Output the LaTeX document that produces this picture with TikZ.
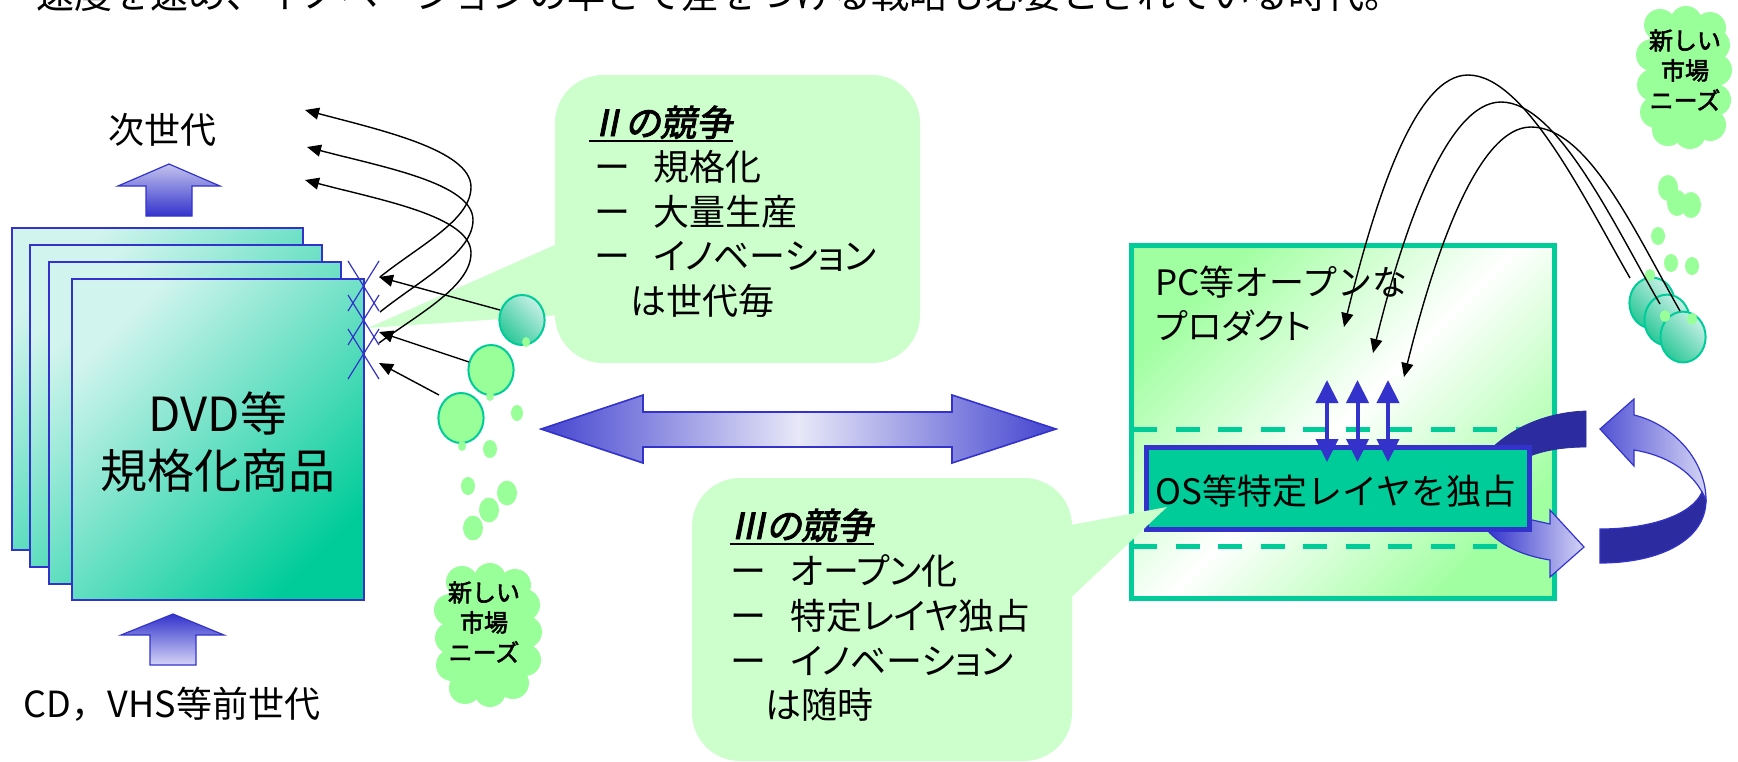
\documentclass[tikz,border=0pt]{standalone}
\usepackage{fontspec}
\setmainfont{Noto Sans CJK JP}[AutoFakeBold=2.5,AutoFakeSlant=0.2]
\newfontfamily\pjp{Noto Sans CJK JP}[RawFeature=+palt,AutoFakeBold=2.5,AutoFakeSlant=0.2]
\usetikzlibrary{arrows.meta}
\definecolor{bl}{HTML}{3333CC}
\definecolor{tg}{HTML}{00CC99}
\definecolor{lg}{HTML}{99FF99}
\definecolor{bub}{HTML}{CCFFCC}
\definecolor{nav}{HTML}{2C2CA0}
\definecolor{lav}{HTML}{D4D4F6}
\definecolor{lavt}{HTML}{C4C4EE}
\definecolor{midl}{HTML}{E8E8F8}
\definecolor{paletl}{HTML}{D2F4EE}
\definecolor{pcg}{HTML}{A0FFA0}
\definecolor{blt}{HTML}{C6F0E6}
\definecolor{bdk}{HTML}{2CC898}
\pgfdeclarehorizontalshading{gwg}{100bp}{color(0bp)=(pcg); color(25bp)=(pcg); color(50bp)=(white); color(75bp)=(pcg); color(100bp)=(pcg)}
\tikzset{
 page/.style={draw=bl, line width=0.8pt, top color=paletl, bottom color=tg, shading angle=45},
 blockup/.style={draw=bl, line width=0.6pt},
 bal/.style={draw=tg, line width=1pt, fill=lg},
 tbal/.style={draw=tg, line width=1pt, top color=blt, bottom color=bdk, shading angle=-45},
 carrow/.style={black, line width=0.7pt, -{Triangle[length=7pt,width=6pt]}},
 xmark/.style={bl, line width=0.6pt},
 lbl/.style={inner sep=0, font=\fontsize{18pt}{18pt}\selectfont},
 blbl/.style={inner sep=0, anchor=base west, font=\pjp\fontsize{18pt}{18pt}\selectfont},
 ttl/.style={inner sep=0, anchor=base west, font=\pjp\bfseries\itshape\fontsize{18pt}{18pt}\selectfont},
 cloudtxt/.style={align=center, inner sep=0, font=\bfseries\fontsize{12pt}{15pt}\selectfont},
 dashln/.style={tg, line width=2.5pt, dash pattern=on 12pt off 9.25pt},
 vdbl/.style={bl, line width=2pt, {Triangle[width=11pt,length=11.5pt]}-{Triangle[width=11pt,length=11.5pt]}},
}
\begin{document}
\begin{tikzpicture}[x=0.5pt,y=-0.5pt]
\useasboundingbox (0,0) rectangle (1738,761);

% top text (cut by page edge)
\node[anchor=base west, inner sep=0, font=\fontsize{19pt}{19pt}\selectfont] (toptext) at (36,8) {速度を速め、イノベーションの早さで差をつける戦略も必要とされている時代。};

% top-right cloud
\fill[lg] (1684,78) ellipse [x radius=18pt, y radius=27.5pt];
\foreach \cx/\cy in {1660/25,1686/22,1710/28,1652/55,1653/85,1656/112,1668/130,1690/133,1710/125,1715/100,1716/70,1714/45}
  \fill[lg] (\cx,\cy) circle [radius=8pt];
\node[cloudtxt] (cloudA) at (1685,70) {新しい\\市場\\ニーズ};
\foreach \cx/\cy/\rx/\ry in {1668/188/5pt/6.5pt, 1677/203/5pt/6.5pt, 1691/205/5pt/6.5pt, 1658/236/3.5pt/4.5pt, 1671/263/3.5pt/4.5pt, 1692/266/3.5pt/4.5pt}
  \fill[lg] (\cx,\cy) ellipse [x radius=\rx, y radius=\ry];

% stack of standard products
\draw[page] (12,228) rectangle (303,550);
\draw[page] (30,245) rectangle (322,567);
\draw[page] (49,262) rectangle (341,584);
\draw[page] (72,279) rectangle (364,600);
\node[font=\fontsize{23.5pt}{28.5pt}\selectfont, align=center, inner sep=0] (dvd) at (218,442) {DVD等\\規格化商品};

% generation arrows
\draw[blockup, top color=lavt, bottom color=bl] (169,164) -- (220,186) -- (192,186) -- (192,216) -- (146,216) -- (146,186) -- (118,186) -- cycle;
\node[lbl] (nextgen) at (162,130) {次世代};
\draw[blockup, top color=bl, bottom color=lav] (173,614) -- (224,635) -- (196,635) -- (196,665) -- (150,665) -- (150,635) -- (121,635) -- cycle;
\node[lbl] (prevgen) at (172,704) {CD，VHS等前世代};

% bubble II
\fill[bub, rounded corners=24pt] (555,75) rectangle (920,363);
\fill[bub] (575,236) -- (368,328) -- (575,314) -- cycle;
\node[ttl] (t2) at (589,136) {Ⅱの競争};
\draw[line width=1pt] ([yshift=-2.5pt]t2.base west) -- ([yshift=-2.5pt]t2.base east);
\node[blbl] (t2a) at (594,180) {\makebox[29.5pt][l]{ー}規格化};
\node[blbl] (t2b) at (594,225) {\makebox[29.5pt][l]{ー}大量生産};
\node[blbl] (t2c) at (594,269) {\makebox[29.5pt][l]{ー}イノベーション};
\node[blbl] (t2d) at (630,314) {は世代毎};

% X marks
\foreach \c in {286,320,354} {
  \draw[xmark] (348,\c-25) -- (379,\c+25);
  \draw[xmark] (379,\c-25) -- (348,\c+25);
}

% balloons (left)
\draw[tbal] (522,320) ellipse [x radius=11.3pt, y radius=12.5pt];
\draw[bal] (491,370) ellipse [x radius=11.3pt, y radius=12.5pt];
\draw[bal] (461,418) ellipse [x radius=11.3pt, y radius=12.5pt];
\foreach \cx/\cy/\rx/\ry in {526/342/2pt/2.5pt, 490/396/2pt/2.5pt, 462/446/2pt/2.5pt, 517/413/3pt/4pt, 490/449/3.5pt/4.5pt, 468/486/3.5pt/4.5pt, 507/493/5pt/6.2pt, 489/510/5pt/6.2pt, 473/528/5pt/6.2pt}
  \fill[lg] (\cx,\cy) ellipse [x radius=\rx, y radius=\ry];

% straight arrows into X marks
\coordinate (s1a) at (500,310); \coordinate (s1b) at (379,277);
\coordinate (s2a) at (469,362); \coordinate (s2b) at (379,332);
\coordinate (s3a) at (439,395); \coordinate (s3b) at (379,363);
\draw[carrow] (s1a) -- (s1b);
\draw[carrow] (s2a) -- (s2b);
\draw[carrow] (s3a) -- (s3b);

% bounced arrows to next generation
\coordinate (c1a) at (380,277); \coordinate (c1b) at (305,110);
\coordinate (c2a) at (380,312); \coordinate (c2b) at (307,147);
\coordinate (c3a) at (379,343); \coordinate (c3b) at (305,180);
\draw[carrow] (c1a) .. controls (420,245) and (471,220) .. (471,187) .. controls (471,150) and (380,130) .. (c1b);
\draw[carrow] (c2a) .. controls (420,280) and (473,253) .. (473,220) .. controls (473,183) and (382,167) .. (c2b);
\draw[carrow] (c3a) .. controls (420,313) and (471,286) .. (471,253) .. controls (471,216) and (380,200) .. (c3b);

% lower cloud
\fill[lg] (488,635) ellipse [x radius=20pt, y radius=27.5pt];
\foreach \cx/\cy in {462/582,490/579,515/585,450/610,451/638,452/665,465/688,490/691,513/683,525/660,526/632,524/605}
  \fill[lg] (\cx,\cy) circle [radius=8pt];
\node[cloudtxt] (cloudB) at (484,622) {新しい\\市場\\ニーズ};

% big double arrow
\draw[draw=bl, line width=0.8pt, left color=bl!92!white, right color=bl!92!white, middle color=midl] (541,429) -- (643,395) -- (643,412) -- (952,412) -- (952,395) -- (1056,429) -- (952,463) -- (952,447) -- (643,447) -- (643,463) -- cycle;

% bubble III
\fill[bub, rounded corners=24pt] (692,478) rectangle (1072,761);
\node[ttl] (t3) at (730,539) {Ⅲの競争};
\draw[line width=1pt] ([yshift=-2.5pt]t3.base west) -- ([yshift=-2.5pt]t3.base east);
\node[blbl] (t3a) at (730,584) {\makebox[30pt][l]{ー}オープン化};
\node[blbl] (t3b) at (730,629) {\makebox[30pt][l]{ー}特定レイヤ独占};
\node[blbl] (t3c) at (730,674) {\makebox[30pt][l]{ー}イノベーション};
\node[blbl] (t3d) at (765,718) {は随時};

% PC box
\draw[draw=tg, line width=2.5pt, shade, shading=gwg, shading angle=-45] (1131,245) rectangle (1554,598);
\draw[dashln] (1133,429) -- (1550,429);
\draw[dashln] (1133,546) -- (1550,546);

% swirl parts behind OS box
\draw[nav, fill=nav, line width=0.4pt] (1493,447) .. controls (1520,422) and (1555,412) .. (1586,411) -- (1586,447) .. controls (1565,447) and (1545,450) .. (1530,456) -- (1520,470) -- cycle;
\draw[bl, line width=0.6pt, left color=bl, right color=lav] (1510,515) -- (1550,524) -- (1550,510) -- (1584,547) -- (1550,577) -- (1550,560) .. controls (1525,556) and (1502,547) .. (1487,530) -- cycle;

% OS layer box
\node[draw=bl, line width=2.5pt, fill=tg, minimum width=191.5pt, minimum height=41pt, inner sep=0] (os) at (1338,488.5) {};

% right swirl arrow
\draw[bl, line width=0.6pt, left color=bl!85!white, right color=lav] (1634,415) .. controls (1675,425) and (1706,462) .. (1706,500) -- (1702,492) .. controls (1690,470) and (1665,455) .. (1634,450) -- (1634,466) -- (1600,429) -- (1634,399) -- cycle;
\draw[bl, line width=0.6pt, fill=nav] (1706,500) .. controls (1706,540) and (1660,563) .. (1600,563) -- (1600,529) .. controls (1650,529) and (1692,515) .. (1702,492) -- cycle;

% bubble III tail over the box
\fill[bub] (1060,527) -- (1167,507) -- (1060,608) -- cycle;
\node[inner sep=0, font=\fontsize{17.5pt}{17.5pt}\selectfont] (ostxt) at (1336,491) {OS等特定レイヤを独占};

% vertical double arrows
\foreach \n/\vx in {1/1327,2/1357.5,3/1388} {
  \coordinate (v\n a) at (\vx,462); \coordinate (v\n b) at (\vx,380);
  \draw[vdbl] (v\n a) -- (v\n b);
}

% PC text
\node[inner sep=0, anchor=base west, font=\fontsize{17.5pt}{17.5pt}\selectfont] (pc1) at (1155,295) {PC等オープンな};
\node[inner sep=0, anchor=base west, font=\pjp\fontsize{17.5pt}{17.5pt}\selectfont] (pc2) at (1155,339) {プロダクト};

% balloons (right)
\draw[tbal] (1652,303) ellipse [x radius=11.3pt, y radius=12.7pt];
\draw[tbal] (1667,320) ellipse [x radius=11.3pt, y radius=12.7pt];
\draw[tbal] (1683,337) ellipse [x radius=11.3pt, y radius=12.7pt];
\foreach \cx/\cy in {1650/275,1665/316,1692/319}
  \fill[lg] (\cx,\cy) ellipse [x radius=2.5pt, y radius=3pt];

% arrows from new needs into PC box
\coordinate (raS) at (1630,278); \coordinate (raE) at (1344,327);
\coordinate (rbS) at (1660,304); \coordinate (rbE) at (1373,353);
\coordinate (rcS) at (1680,311); \coordinate (rcE) at (1404,377);
\draw[carrow] (raS) .. controls (1585,200) and (1525,75) .. (1468,75) .. controls (1415,75) and (1375,200) .. (raE);
\draw[carrow] (rbS) .. controls (1615,227) and (1558,102) .. (1501,102) .. controls (1448,102) and (1404,226) .. (rbE);
\draw[carrow] (rcS) .. controls (1635,232) and (1588,127) .. (1531,127) .. controls (1478,127) and (1435,252) .. (rcE);

\end{tikzpicture}
\end{document}
